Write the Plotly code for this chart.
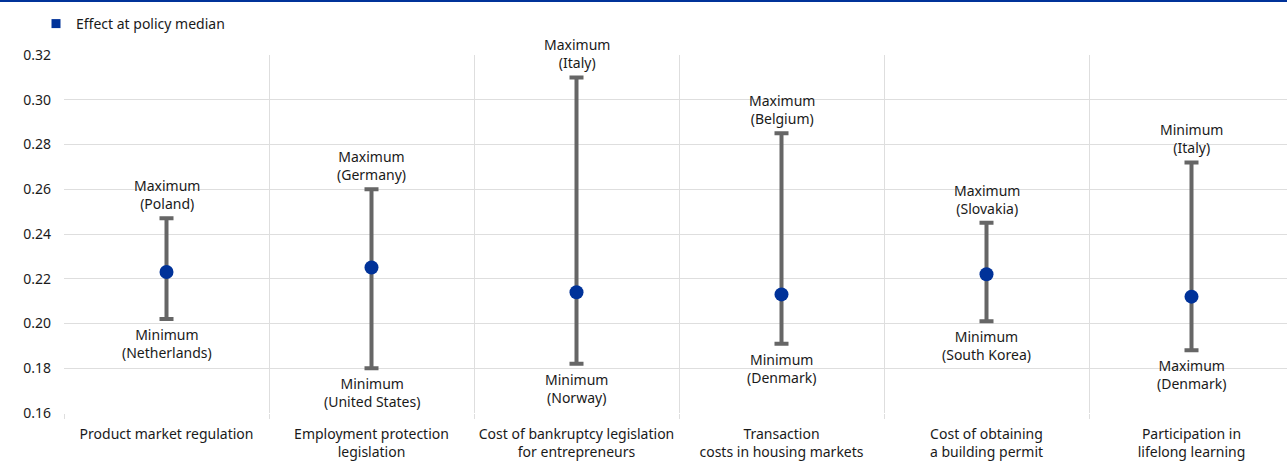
import plotly.graph_objects as go

# categories (x axis)
categories = [
    "Product market regulation",
    "Employment protection<br>legislation",
    "Cost of bankruptcy legislation<br>for entrepreneurs",
    "Transaction<br>costs in housing markets",
    "Cost of obtaining<br>a building permit",
    "Participation in<br>lifelong learning",
]

# effect at policy median, and range ends
median = [0.223, 0.225, 0.214, 0.213, 0.222, 0.212]
upper = [0.247, 0.260, 0.310, 0.285, 0.245, 0.272]
lower = [0.202, 0.180, 0.182, 0.191, 0.201, 0.188]

upper_labels = ["Maximum<br>(Poland)", "Maximum<br>(Germany)", "Maximum<br>(Italy)",
                "Maximum<br>(Belgium)", "Maximum<br>(Slovakia)", "Minimum<br>(Italy)"]
lower_labels = ["Minimum<br>(Netherlands)", "Minimum<br>(United States)", "Minimum<br>(Norway)",
                "Minimum<br>(Denmark)", "Minimum<br>(South Korea)", "Maximum<br>(Denmark)"]

blue = "#003299"
grey = "#666666"
font = "Noto Sans"

xpos = list(range(len(categories)))
err_plus = [u - m for u, m in zip(upper, median)]
err_minus = [m - l for m, l in zip(median, lower)]

fig = go.Figure()

fig.add_trace(go.Scatter(
    x=xpos, y=median, mode="markers",
    marker=dict(color=blue, size=14),
    error_y=dict(type="data", symmetric=False, array=err_plus, arrayminus=err_minus,
                 color=grey, thickness=4, width=7),
    showlegend=False,
))

# legend entry (square marker)
fig.add_trace(go.Scatter(
    x=[None], y=[None], mode="markers", name="Effect at policy median",
    marker=dict(color=blue, size=9, symbol="square"),
))

for i in xpos:
    fig.add_annotation(x=i, y=upper[i], text=upper_labels[i], showarrow=False,
                       yanchor="bottom", yshift=3, font=dict(size=14, color="#1a1a1a"))
    fig.add_annotation(x=i, y=lower[i], text=lower_labels[i], showarrow=False,
                       yanchor="top", yshift=-4, font=dict(size=14, color="#1a1a1a"))

plot_w = 1287 - 64
plot_h = 470 - 55 - 57

# top blue rule
fig.add_shape(type="line", xref="paper", yref="paper",
              x0=-64 / plot_w, x1=1, y0=1 + 54 / plot_h, y1=1 + 54 / plot_h,
              line=dict(color=blue, width=2))

fig.update_layout(
    width=1287, height=470,
    margin=dict(l=64, r=0, t=55, b=57, autoexpand=False),
    plot_bgcolor="white", paper_bgcolor="white",
    font=dict(family=font, size=14, color="#1a1a1a"),
    legend=dict(orientation="h", x=-28 / plot_w, y=1 + 31 / plot_h,
                xanchor="left", yanchor="middle", font=dict(size=14),
                itemwidth=30, bgcolor="rgba(0,0,0,0)"),
)

fig.update_xaxes(
    range=[-0.5, -0.5 + plot_w / 205],
    tickvals=xpos, ticktext=categories, ticks="",
    showgrid=False, zeroline=False,
    showline=False, automargin=False,
    minor=dict(tickvals=[i - 0.5 for i in range(len(categories) + 1)],
               showgrid=True, gridcolor="#dedede", gridwidth=1,
               ticks="outside", ticklen=5, tickcolor="#dedede"),
    tickfont=dict(size=14), ticklabelstandoff=11,
)

fig.update_yaxes(
    range=[0.16, 0.32], dtick=0.02, tickformat=".2f",
    showgrid=True, gridcolor="#dedede", gridwidth=1,
    zeroline=False, showline=False, ticks="", automargin=False,
    tickfont=dict(size=14), ticklabelstandoff=12,
)

# drop the default body margin so the figure sits at the page corner
fig.write_html("out.html", config={"displayModeBar": False},
               post_script="document.body.style.margin='0';")
